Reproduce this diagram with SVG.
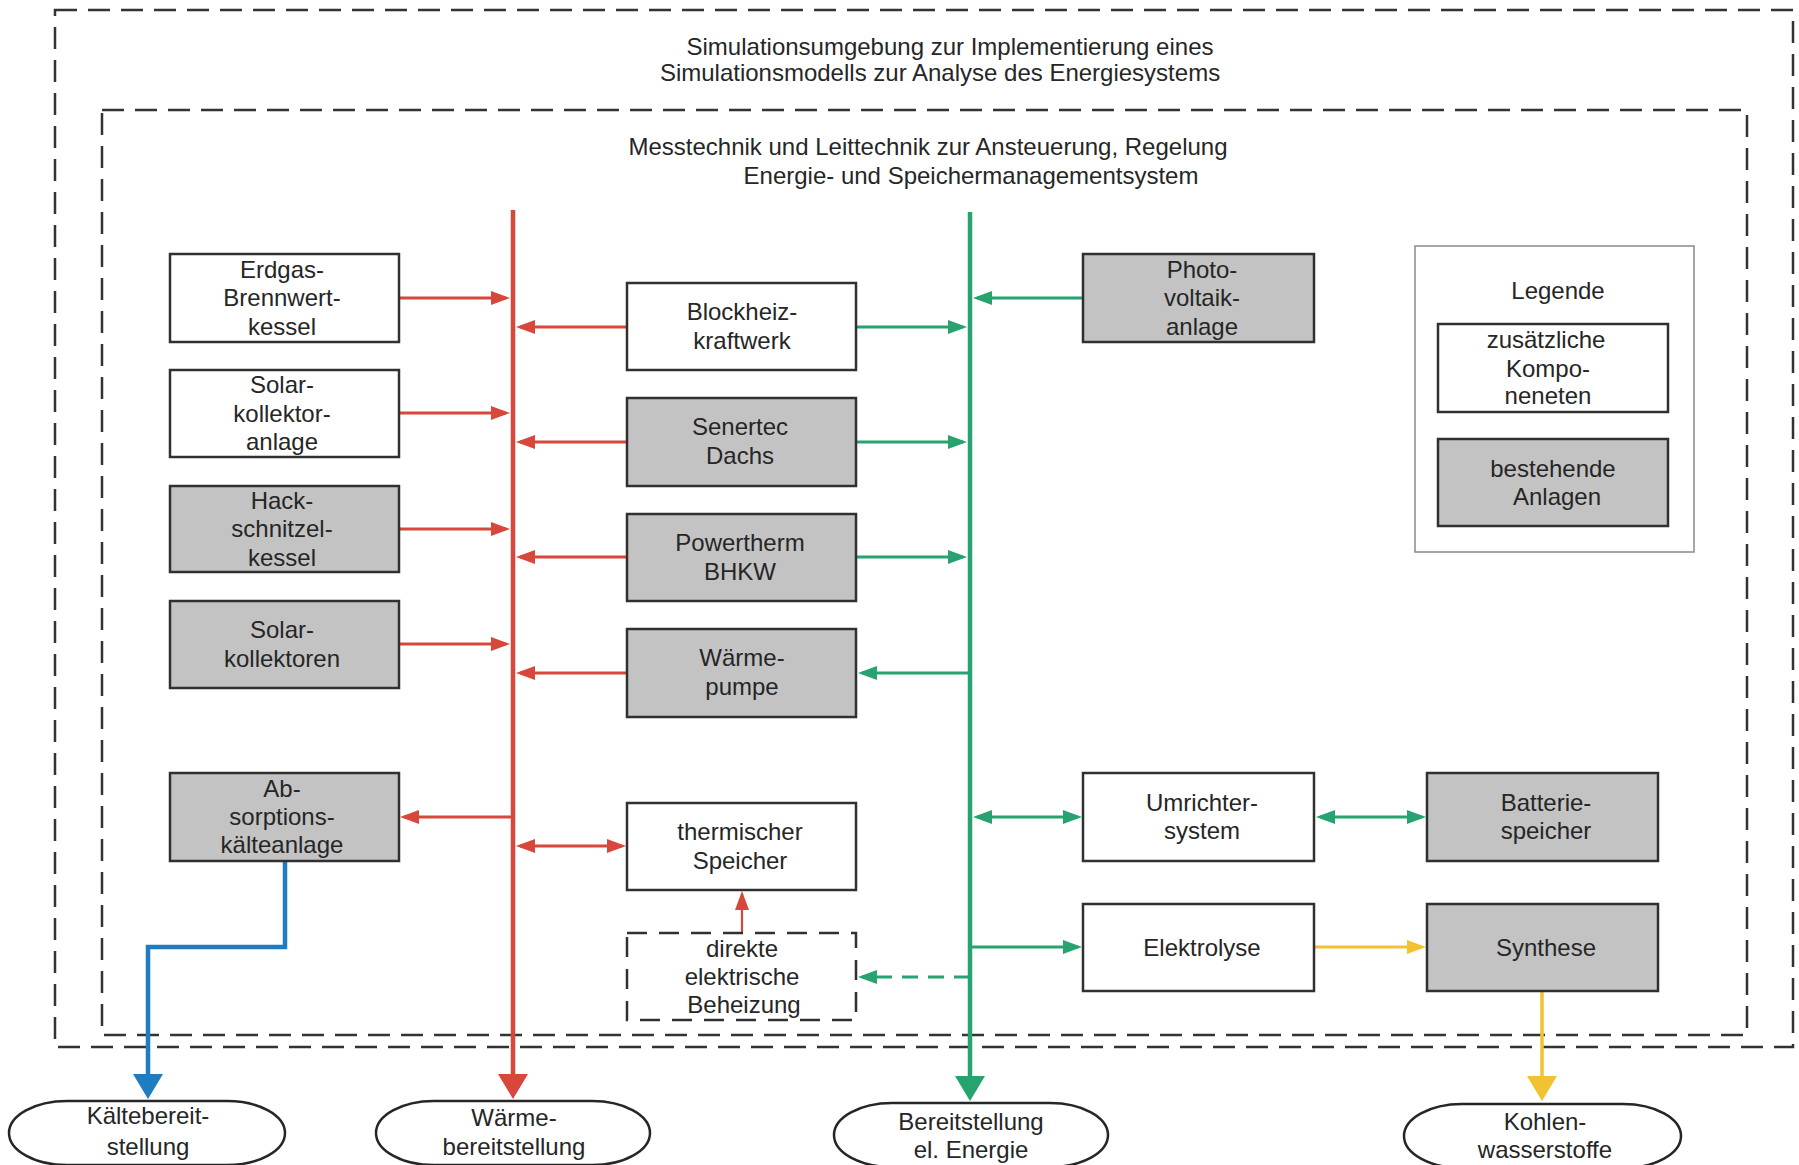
<svg xmlns="http://www.w3.org/2000/svg" width="1799" height="1165" viewBox="0 0 1799 1165">
<style>
text{font-family:"Liberation Sans",Arial,Helvetica,sans-serif;font-size:24px;fill:#262626;text-anchor:middle}
.box{stroke:#303030;stroke-width:2.5}
.w{fill:#ffffff}
.g{fill:#c3c3c3}
.frame{fill:none;stroke:#333;stroke-width:2.5;stroke-dasharray:22 11}
.dbox{fill:#fff;stroke:#303030;stroke-width:2.5;stroke-dasharray:20 12}
.term{fill:#fff;stroke:#262626;stroke-width:2.5}
.red{stroke:#d8473b;fill:none}
.grn{stroke:#27a36f;fill:none}
.blu{stroke:#1f7cc0;fill:none}
.yel{stroke:#f1c232;fill:none}
.bus{stroke-width:4.5}
.br{stroke-width:3}
</style>
<defs>
<marker id="ar" markerUnits="userSpaceOnUse" markerWidth="20" markerHeight="14" refX="15" refY="7" orient="auto-start-reverse"><path d="M0,0 L19,7 L0,14 z" fill="#d8473b"/></marker>
<marker id="ag" markerUnits="userSpaceOnUse" markerWidth="20" markerHeight="14" refX="15" refY="7" orient="auto-start-reverse"><path d="M0,0 L19,7 L0,14 z" fill="#27a36f"/></marker>
<marker id="ay" markerUnits="userSpaceOnUse" markerWidth="20" markerHeight="14" refX="15" refY="7" orient="auto-start-reverse"><path d="M0,0 L19,7 L0,14 z" fill="#f1c232"/></marker>
<marker id="br" markerUnits="userSpaceOnUse" markerWidth="26" markerHeight="30" refX="20" refY="15" orient="auto"><path d="M0,0 L25,15 L0,30 z" fill="#d8473b"/></marker>
<marker id="bg" markerUnits="userSpaceOnUse" markerWidth="26" markerHeight="30" refX="20" refY="15" orient="auto"><path d="M0,0 L25,15 L0,30 z" fill="#27a36f"/></marker>
<marker id="bb" markerUnits="userSpaceOnUse" markerWidth="26" markerHeight="30" refX="20" refY="15" orient="auto"><path d="M0,0 L25,15 L0,30 z" fill="#1f7cc0"/></marker>
<marker id="by" markerUnits="userSpaceOnUse" markerWidth="26" markerHeight="30" refX="20" refY="15" orient="auto"><path d="M0,0 L25,15 L0,30 z" fill="#f1c232"/></marker>
</defs>
<rect width="1799" height="1165" fill="#fff"/>

<g id="frame-simulation">
<rect class="frame" x="55" y="10" width="1738" height="1037"/>
<text x="950" y="55">Simulationsumgebung zur Implementierung eines</text>
<text x="940" y="81">Simulationsmodells zur Analyse des Energiesystems</text>
</g>
<g id="frame-leittechnik">
<rect class="frame" x="102" y="110" width="1645" height="925"/>
<text x="928" y="155">Messtechnik und Leittechnik zur Ansteuerung, Regelung</text>
<text x="971" y="184">Energie- und Speichermanagementsystem</text>
</g>

<g id="connectors">
<!-- buses -->
<line class="red bus" x1="513" y1="210" x2="513" y2="1094" marker-end="url(#br)"/>
<line class="grn bus" x1="970" y1="212" x2="970" y2="1096" marker-end="url(#bg)"/>
<!-- red branches -->
<line class="red br" x1="399" y1="298" x2="506" y2="298" marker-end="url(#ar)"/>
<line class="red br" x1="399" y1="413" x2="506" y2="413" marker-end="url(#ar)"/>
<line class="red br" x1="399" y1="529" x2="506" y2="529" marker-end="url(#ar)"/>
<line class="red br" x1="399" y1="644" x2="506" y2="644" marker-end="url(#ar)"/>
<line class="red br" x1="513" y1="817" x2="404" y2="817" marker-end="url(#ar)"/>
<line class="red br" x1="627" y1="327" x2="520" y2="327" marker-end="url(#ar)"/>
<line class="red br" x1="627" y1="442" x2="520" y2="442" marker-end="url(#ar)"/>
<line class="red br" x1="627" y1="557" x2="520" y2="557" marker-end="url(#ar)"/>
<line class="red br" x1="627" y1="673" x2="520" y2="673" marker-end="url(#ar)"/>
<line class="red br" x1="520" y1="846" x2="622" y2="846" marker-start="url(#ar)" marker-end="url(#ar)"/>
<line class="red" stroke-width="2.2" x1="742" y1="933" x2="742" y2="895" marker-end="url(#ar)"/>
<!-- green branches -->
<line class="grn br" x1="856" y1="327" x2="963" y2="327" marker-end="url(#ag)"/>
<line class="grn br" x1="856" y1="442" x2="963" y2="442" marker-end="url(#ag)"/>
<line class="grn br" x1="856" y1="557" x2="963" y2="557" marker-end="url(#ag)"/>
<line class="grn br" x1="970" y1="673" x2="862" y2="673" marker-end="url(#ag)"/>
<line class="grn br" x1="1083" y1="298" x2="977" y2="298" marker-end="url(#ag)"/>
<line class="grn br" x1="977" y1="817" x2="1078" y2="817" marker-start="url(#ag)" marker-end="url(#ag)"/>
<line class="grn br" x1="1320" y1="817" x2="1422" y2="817" marker-start="url(#ag)" marker-end="url(#ag)"/>
<line class="grn br" x1="970" y1="947" x2="1078" y2="947" marker-end="url(#ag)"/>
<line class="grn br" x1="970" y1="977" x2="862" y2="977" stroke-dasharray="16 10" marker-end="url(#ag)"/>
<!-- yellow -->
<line class="yel br" x1="1314" y1="947" x2="1422" y2="947" marker-end="url(#ay)"/>
<line class="yel" stroke-width="3.5" x1="1542" y1="991" x2="1542" y2="1096" marker-end="url(#by)"/>
<!-- blue -->
<polyline class="blu" stroke-width="4.5" points="285,861 285,947 148,947 148,1094" marker-end="url(#bb)"/>
</g>

<g id="n-erdgas"><rect class="box w" x="170" y="254" width="229" height="88"/><text x="282" y="278">Erdgas-</text><text x="282" y="306">Brennwert-</text><text x="282" y="335">kessel</text></g>
<g id="n-solarkollektoranlage"><rect class="box w" x="170" y="370" width="229" height="87"/><text x="282" y="393">Solar-</text><text x="282" y="422">kollektor-</text><text x="282" y="450">anlage</text></g>
<g id="n-hackschnitzel"><rect class="box g" x="170" y="486" width="229" height="86"/><text x="282" y="509">Hack-</text><text x="282" y="537">schnitzel-</text><text x="282" y="566">kessel</text></g>
<g id="n-solarkollektoren"><rect class="box g" x="170" y="601" width="229" height="87"/><text x="282" y="638">Solar-</text><text x="282" y="667">kollektoren</text></g>
<g id="n-absorption"><rect class="box g" x="170" y="773" width="229" height="88"/><text x="282" y="797">Ab-</text><text x="282" y="825">sorptions-</text><text x="282" y="853">kälteanlage</text></g>

<g id="n-bhkw"><rect class="box w" x="627" y="283" width="229" height="87"/><text x="742" y="320">Blockheiz-</text><text x="742" y="349">kraftwerk</text></g>
<g id="n-senertec"><rect class="box g" x="627" y="398" width="229" height="88"/><text x="740" y="435">Senertec</text><text x="740" y="464">Dachs</text></g>
<g id="n-powertherm"><rect class="box g" x="627" y="514" width="229" height="87"/><text x="740" y="551">Powertherm</text><text x="740" y="580">BHKW</text></g>
<g id="n-waermepumpe"><rect class="box g" x="627" y="629" width="229" height="88"/><text x="742" y="666">Wärme-</text><text x="742" y="695">pumpe</text></g>
<g id="n-thermspeicher"><rect class="box w" x="627" y="803" width="229" height="87"/><text x="740" y="840">thermischer</text><text x="740" y="869">Speicher</text></g>
<g id="n-direktheizung"><rect class="dbox" x="627" y="933" width="229" height="87"/><text x="742" y="957">direkte</text><text x="742" y="985">elektrische</text><text x="744" y="1013">Beheizung</text></g>

<g id="n-photovoltaik"><rect class="box g" x="1083" y="254" width="231" height="88"/><text x="1202" y="278">Photo-</text><text x="1202" y="306">voltaik-</text><text x="1202" y="335">anlage</text></g>
<g id="n-umrichter"><rect class="box w" x="1083" y="773" width="231" height="88"/><text x="1202" y="811">Umrichter-</text><text x="1202" y="839">system</text></g>
<g id="n-batterie"><rect class="box g" x="1427" y="773" width="231" height="88"/><text x="1546" y="811">Batterie-</text><text x="1546" y="839">speicher</text></g>
<g id="n-elektrolyse"><rect class="box w" x="1083" y="904" width="231" height="87"/><text x="1202" y="956">Elektrolyse</text></g>
<g id="n-synthese"><rect class="box g" x="1427" y="904" width="231" height="87"/><text x="1546" y="956">Synthese</text></g>

<g id="legend">
<rect x="1415" y="246" width="279" height="306" fill="#fff" stroke="#8a8a8a" stroke-width="1.5"/>
<text x="1558" y="299">Legende</text>
<rect class="box w" x="1438" y="324" width="230" height="88"/><text x="1546" y="348">zusätzliche</text><text x="1548" y="377">Kompo-</text><text x="1548" y="404">neneten</text>
<rect class="box g" x="1438" y="439" width="230" height="87"/><text x="1553" y="477">bestehende</text><text x="1557" y="505">Anlagen</text>
</g>

<g id="t-kaelte"><rect class="term" x="9" y="1101" width="276" height="64" rx="58" ry="32"/><text x="148" y="1124">Kältebereit-</text><text x="148" y="1155">stellung</text></g>
<g id="t-waerme"><rect class="term" x="376" y="1101" width="274" height="64" rx="58" ry="32"/><text x="514" y="1126">Wärme-</text><text x="514" y="1155">bereitstellung</text></g>
<g id="t-strom"><rect class="term" x="834" y="1103" width="274" height="64" rx="58" ry="32"/><text x="971" y="1130">Bereitstellung</text><text x="971" y="1158">el. Energie</text></g>
<g id="t-kohlenwasserstoffe"><rect class="term" x="1404" y="1104" width="277" height="64" rx="58" ry="32"/><text x="1545" y="1130">Kohlen-</text><text x="1545" y="1158">wasserstoffe</text></g>
</svg>
